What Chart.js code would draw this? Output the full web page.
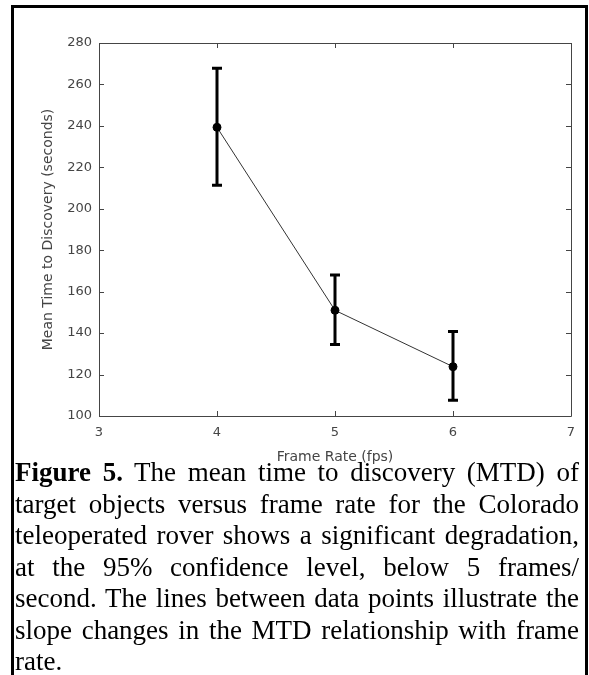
<!DOCTYPE html>
<html>
<head>
<meta charset="utf-8">
<script src="https://cdn.jsdelivr.net/npm/chart.js@4.4.1/dist/chart.umd.min.js"></script>
<style>
  html, body { margin: 0; padding: 0; background: #fff; }
  body { width: 589px; height: 675px; position: relative; overflow: hidden; }
  #frame {
    position: absolute; left: 11px; top: 5px; width: 577px; height: 680px;
    box-sizing: border-box; border: 3px solid #000; border-bottom: none;
  }
  #plot { position: absolute; left: 0; top: 0; width: 589px; height: 470px; }
  #caption {
    position: absolute; left: 15px; top: 457px; width: 564px;
    font-family: "Liberation Serif", "Times New Roman", serif;
    font-size: 27px; line-height: 31.5px; color: #000;
  }
  #caption div { text-align: justify; text-align-last: justify; white-space: nowrap; }
  #caption div.last { text-align-last: left; }
</style>
</head>
<body>
<div id="frame"></div>
<canvas id="plot" width="589" height="470"></canvas>
<div id="caption">
  <div><b>Figure 5.</b> The mean time to discovery (MTD) of</div>
  <div>target objects versus frame rate for the Colorado</div>
  <div>teleoperated rover shows a significant degradation,</div>
  <div>at the 95% confidence level, below 5 frames/</div>
  <div>second. The lines between data points illustrate the</div>
  <div>slope changes in the MTD relationship with frame</div>
  <div class="last">rate.</div>
</div>
<script>
// data
const frameRates = [4, 5, 6];
const meanTimes = [239.3, 151, 123.8];
const ciLower = [211.4, 134.5, 107.6];
const ciUpper = [267.8, 168, 140.8];

const xTicks = [3, 4, 5, 6, 7];
const yTicks = [100, 120, 140, 160, 180, 200, 220, 240, 260, 280];

const axisColor = '#454545';

// box around the plot with inward ticks on all four sides (matlab look)
const boxAxes = {
    id: 'boxAxes',
    afterDraw(chart) {
        const {ctx, chartArea: a, scales: {x, y}} = chart;
        const len = 5;
        ctx.save();
        ctx.strokeStyle = axisColor;
        ctx.lineWidth = 1;
        ctx.beginPath();
        ctx.rect(a.left + 0.5, a.top + 0.5, a.right - a.left, a.bottom - a.top);
        xTicks.forEach(v => {
            const px = Math.round(x.getPixelForValue(v)) + 0.5;
            ctx.moveTo(px, a.bottom); ctx.lineTo(px, a.bottom - len);
            ctx.moveTo(px, a.top); ctx.lineTo(px, a.top + len);
        });
        yTicks.forEach(v => {
            const py = Math.round(y.getPixelForValue(v)) + 0.5;
            ctx.moveTo(a.left, py); ctx.lineTo(a.left + len, py);
            ctx.moveTo(a.right, py); ctx.lineTo(a.right - len, py);
        });
        ctx.stroke();
        ctx.restore();
    }
};

// vertical error bars for the 95% confidence interval
const errorBars = {
    id: 'errorBars',
    beforeDatasetsDraw(chart) {
        const {ctx, scales: {x, y}} = chart;
        ctx.save();
        ctx.strokeStyle = '#000';
        ctx.lineWidth = 3;
        ctx.lineCap = 'butt';
        frameRates.forEach((fr, i) => {
            const px = x.getPixelForValue(fr);
            const lo = y.getPixelForValue(ciLower[i]);
            const hi = y.getPixelForValue(ciUpper[i]);
            ctx.beginPath();
            ctx.moveTo(px, lo); ctx.lineTo(px, hi);
            ctx.moveTo(px - 5, lo); ctx.lineTo(px + 5, lo);
            ctx.moveTo(px - 5, hi); ctx.lineTo(px + 5, hi);
            ctx.stroke();
        });
        ctx.restore();
    }
};

Chart.defaults.font.family = '"DejaVu Sans", sans-serif';
Chart.defaults.color = axisColor;

new Chart(document.getElementById('plot'), {
    type: 'scatter',
    data: {
        datasets: [{
            data: frameRates.map((fr, i) => ({x: fr, y: meanTimes[i]})),
            showLine: true,
            borderColor: '#333',
            borderWidth: 1,
            pointRadius: 4,
            pointBackgroundColor: '#000',
            pointBorderColor: '#000',
            pointBorderWidth: 1
        }]
    },
    options: {
        responsive: false,
        animation: false,
        layout: { padding: { top: 43, right: 18, left: 0, bottom: 0 } },
        plugins: { legend: { display: false }, tooltip: { enabled: false } },
        scales: {
            x: {
                type: 'linear',
                min: 3, max: 7,
                afterBuildTicks: s => { s.ticks = xTicks.map(v => ({value: v})); },
                afterFit: s => { s.height = 54; },
                grid: { display: false, drawTicks: false },
                border: { display: false },
                ticks: { font: { size: 13 }, color: axisColor, padding: 9 },
                title: { display: true, text: 'Frame Rate (fps)', font: { size: 14 }, color: axisColor, padding: 4 }
            },
            y: {
                min: 100, max: 280,
                afterBuildTicks: s => { s.ticks = yTicks.map(v => ({value: v})); },
                afterFit: s => { s.width = 99; },
                grid: { display: false, drawTicks: false },
                border: { display: false },
                ticks: { font: { size: 13 }, color: axisColor, padding: 7 },
                title: { display: true, text: 'Mean Time to Discovery (seconds)', font: { size: 14 }, color: axisColor, padding: 40 }
            }
        }
    },
    plugins: [errorBars, boxAxes]
});
</script>
</body>
</html>
